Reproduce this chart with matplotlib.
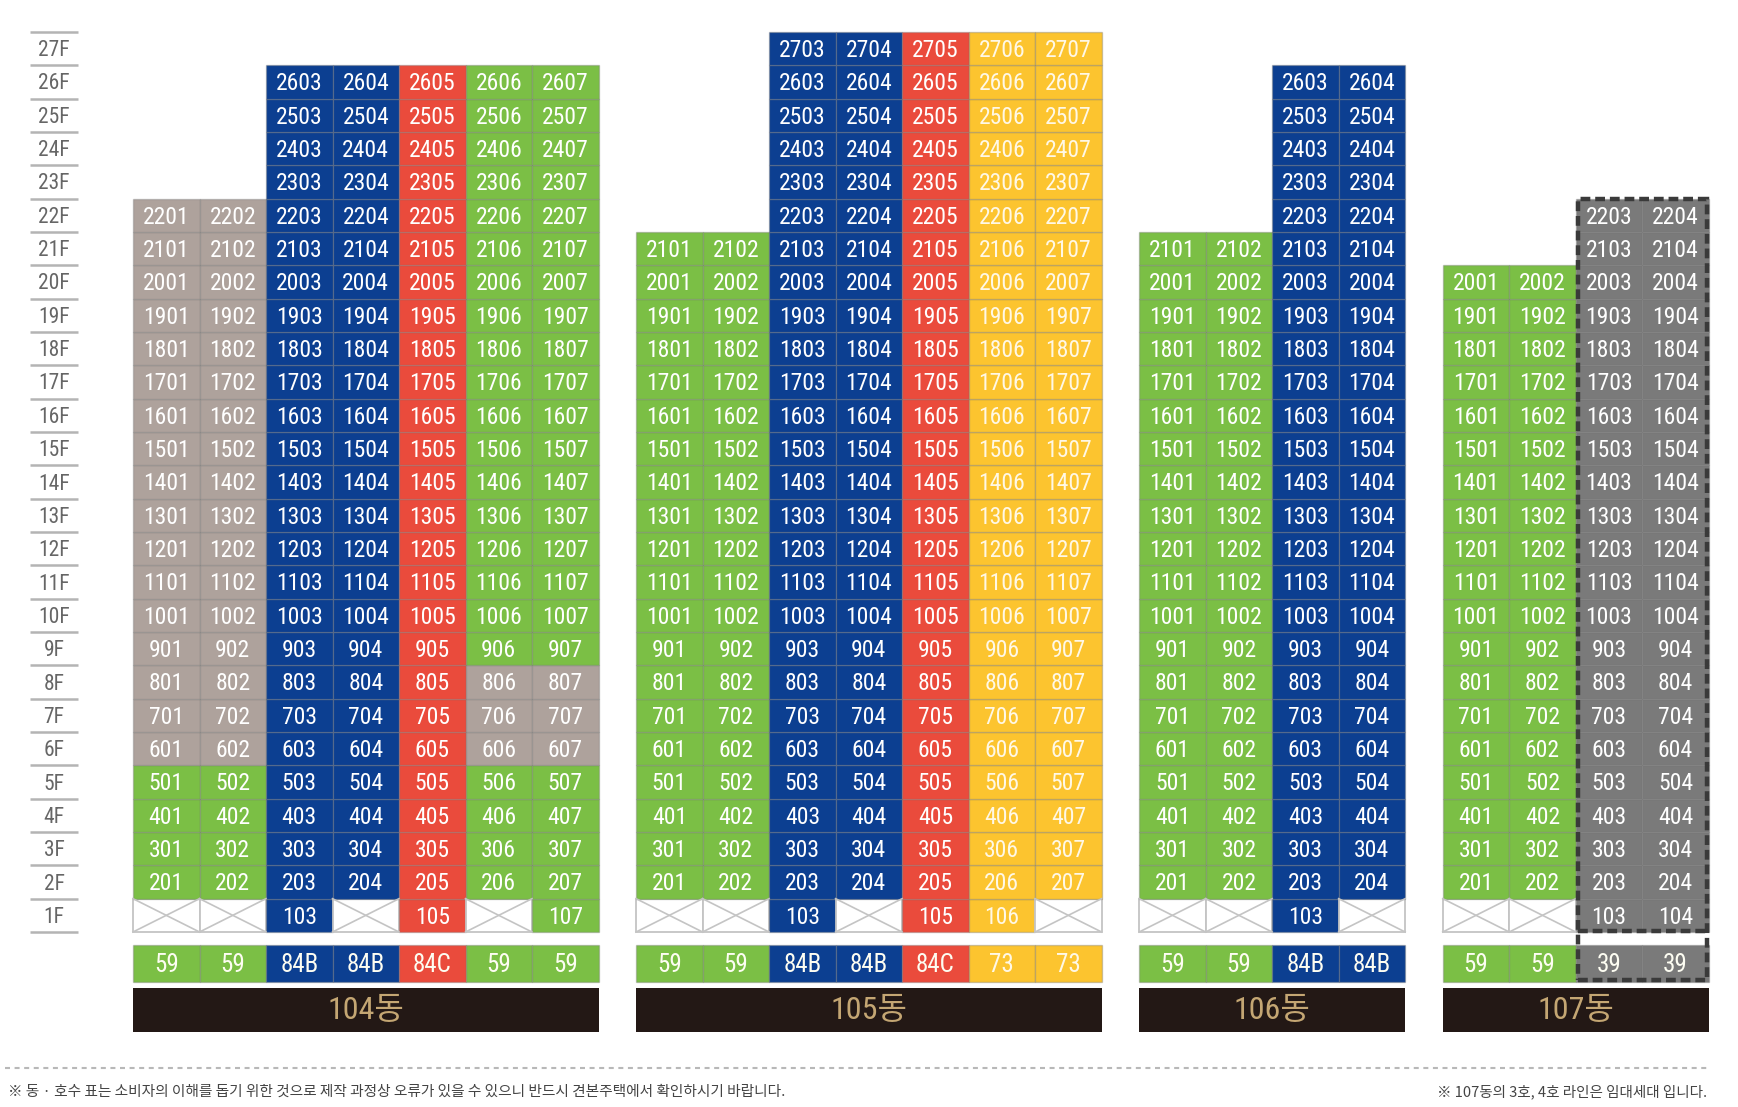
import matplotlib
matplotlib.use("Agg")
import matplotlib.pyplot as plt
from matplotlib import font_manager
from matplotlib.patches import Rectangle

# ---------------- data ----------------
BUILDINGS = ["104동", "105동", "106동", "107동"]
TYPES_104 = ["59", "59", "84B", "84B", "84C", "59", "59"]
TYPES_105 = ["59", "59", "84B", "84B", "84C", "73", "73"]
TYPES_106 = ["59", "59", "84B", "84B"]
TYPES_107 = ["59", "59", "39", "39"]
TOP_104 = [22, 22, 26, 26, 26, 26, 26]
TOP_105 = [21, 21, 27, 27, 27, 27, 27]
TOP_106 = [21, 21, 26, 26]
TOP_107 = [20, 20, 22, 22]
HAS_1F_104 = [False, False, True, False, True, False, True]
HAS_1F_105 = [False, False, True, False, True, True, False]
HAS_1F_106 = [False, False, True, False]
HAS_1F_107 = [False, False, True, True]
# floors drawn in taupe (building, column index) -> (from floor, to floor)
TAUPE_RANGES = {("104동", 0): (6, 22), ("104동", 1): (6, 22),
                ("104동", 5): (6, 8), ("104동", 6): (6, 8)}
RENTAL = {"107동": [2, 3]}
FLOORS = list(range(1, 28))
NOTE_LEFT = "※ 동 · 호수 표는 소비자의 이해를 돕기 위한 것으로 제작 과정상 오류가 있을 수 있으니 반드시 견본주택에서 확인하시기 바랍니다."
NOTE_RIGHT = "※ 107동의 3호, 4호 라인은 임대세대 입니다."

TYPES = [TYPES_104, TYPES_105, TYPES_106, TYPES_107]
TOPS = [TOP_104, TOP_105, TOP_106, TOP_107]
HAS_1F = [HAS_1F_104, HAS_1F_105, HAS_1F_106, HAS_1F_107]

# ---------------- style ----------------
TYPE_COLOR = {"59": "#7bbf45", "84B": "#0c3f91", "84C": "#ea4b3c",
              "73": "#fcc42f", "39": "#7a7a7a"}
TAUPE = "#aea29c"
BAR_BG = "#231815"
BAR_TXT = "#c4a673"

fl = font_manager.fontManager.ttflist
names = {f.name for f in fl}
cond_dejavu = any(f.name == "DejaVu Sans" and f.stretch == "condensed" for f in fl)
if "Liberation Sans Narrow" in names:
    NUMFONT, STRETCH, SCALE = "Liberation Sans Narrow", "normal", 1.0
elif "Roboto Condensed" in names:
    NUMFONT, STRETCH, SCALE = "Roboto Condensed", "normal", 1.0
elif cond_dejavu:
    NUMFONT, STRETCH, SCALE = "DejaVu Sans", "condensed", 0.92
else:
    NUMFONT, STRETCH, SCALE = "Liberation Sans", "normal", 0.9
KFONT = "Noto Sans CJK KR"
plt.rcParams["font.family"] = [NUMFONT, KFONT, "DejaVu Sans"]

fig = plt.figure(figsize=(17.38, 11.07), dpi=100)
ax = fig.add_axes([0, 0, 1, 1])
ax.set_xlim(-2.0, 24.135)
ax.set_ylim(-5.25, 27.96)
ax.axis("off")

GAP = 0.565
TYPE_Y0, TYPE_Y1 = -1.49, -0.39
BAR_Y0, BAR_Y1 = -3.0, -1.68
EDGE = (0.45, 0.45, 0.45, 0.35)
DY = -0.06

# floor labels
FL_X0, FL_X1 = -1.549, -0.827
for f in FLOORS:
    ax.text((FL_X0 + FL_X1) / 2, f - 0.5 + DY, f"{f}F", ha="center", va="center",
            fontsize=15.5 * SCALE, color="#666666", family=[NUMFONT, "DejaVu Sans"],
            fontstretch=STRETCH)
for yb in range(0, 28):
    ax.plot([FL_X0, FL_X1], [yb, yb], color="#b4b4b4", lw=1.8, solid_capstyle="butt")

x0 = 0.0
for b, name in enumerate(BUILDINGS):
    types = TYPES[b]
    ncol = len(types)
    for c in range(ncol):
        xc = x0 + c
        base = TYPE_COLOR[types[c]]
        for f in range(1, TOPS[b][c] + 1):
            if f == 1 and not HAS_1F[b][c]:
                ax.bar(xc, 1, bottom=0, width=1, align="edge", color="white",
                       edgecolor="#c4c4c4", linewidth=1.3)
                ax.plot([xc, xc + 1], [0, 1], color="#c4c4c4", lw=1.2)
                ax.plot([xc, xc + 1], [1, 0], color="#c4c4c4", lw=1.2)
                continue
            col = base
            rng = TAUPE_RANGES.get((name, c))
            if rng and rng[0] <= f <= rng[1]:
                col = TAUPE
            ax.bar(xc, 1, bottom=f - 1, width=1, align="edge", color=col,
                   edgecolor=EDGE, linewidth=1.0)
            tc = "#fff8e6" if col == TYPE_COLOR["73"] else "white"
            ax.text(xc + 0.5, f - 0.5 + DY, f"{f * 100 + c + 1}", ha="center", va="center",
                    fontsize=17 * SCALE, color=tc, fontstretch=STRETCH)
        # type row
        ax.bar(xc, TYPE_Y1 - TYPE_Y0, bottom=TYPE_Y0, width=1, align="edge",
               color=base, edgecolor=EDGE, linewidth=1.0)
        tc = "#fff8e6" if types[c] == "73" else "#fdfdf2"
        ax.text(xc + 0.5, (TYPE_Y0 + TYPE_Y1) / 2 + DY, types[c], ha="center", va="center",
                fontsize=18 * SCALE, color=tc, fontstretch=STRETCH)
    # building bar
    ax.bar(x0, BAR_Y1 - BAR_Y0, bottom=BAR_Y0, width=ncol, align="edge",
           color=BAR_BG, edgecolor="none")
    ax.text(x0 + ncol / 2, (BAR_Y0 + BAR_Y1) / 2 - 0.02, name, ha="center", va="center",
            fontsize=23, color=BAR_TXT, family=[NUMFONT, KFONT], fontstretch=STRETCH)
    # rental dashed frame
    if name in RENTAL:
        cols = RENTAL[name]
        rx0 = x0 + cols[0] + 0.03
        rx1 = x0 + cols[-1] + 1 - 0.03
        rtop = max(TOPS[b][k] for k in cols)
        ax.add_patch(Rectangle((rx0, TYPE_Y0 + 0.05), rx1 - rx0, rtop - TYPE_Y0 - 0.05,
                               fill=False, edgecolor="#3a3a3a", linewidth=3.2,
                               linestyle=(0, (2.2, 1.1)), zorder=5))
        ax.plot([rx0, rx1], [0.02, 0.02], color="#3a3a3a", lw=3.2,
                linestyle=(0, (2.2, 1.1)), zorder=5)
    x0 += ncol + GAP

# separator and notes
ax.plot([-1.925, 23.67], [-4.08, -4.08], color="#b8b8b8", lw=1.5,
        linestyle=(0, (2.4, 2.2)))
ax.text(-1.88, -4.8, NOTE_LEFT, ha="left", va="center", fontsize=10.6,
        color="#444444", family=[KFONT, "DejaVu Sans"])
ax.text(23.67, -4.8, NOTE_RIGHT, ha="right", va="center", fontsize=10.5,
        color="#444444", family=[KFONT, "DejaVu Sans"])

fig.savefig("out.png", dpi=100, facecolor="white")
